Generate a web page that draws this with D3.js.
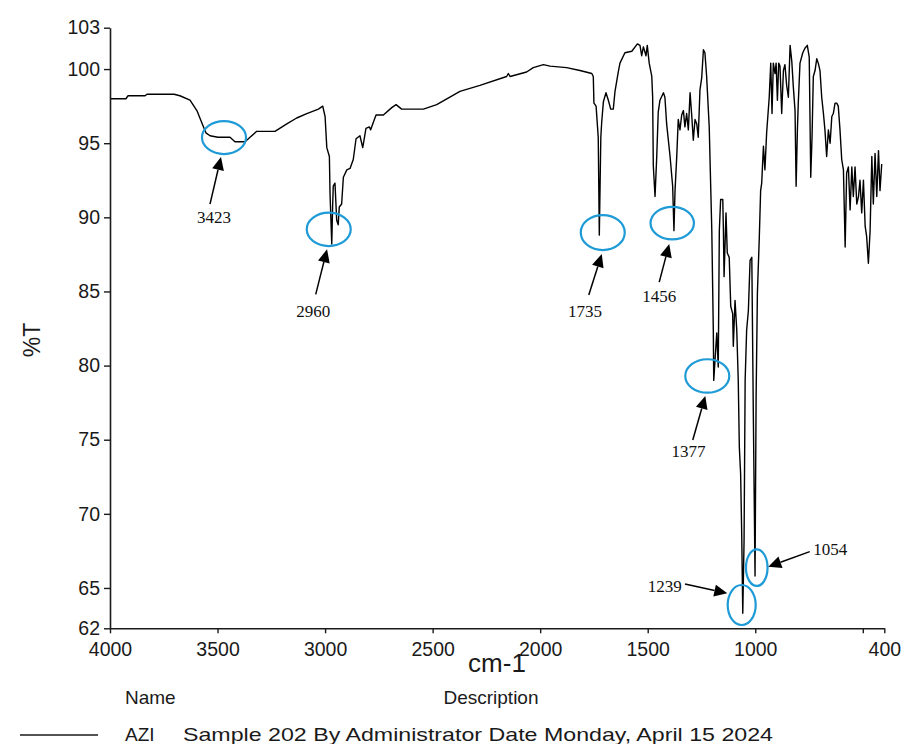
<!DOCTYPE html>
<html>
<head>
<meta charset="utf-8">
<script src="https://cdn.jsdelivr.net/npm/d3@7"></script>
<style>
  html, body { margin: 0; padding: 0; background: #fff; }
  svg { display: block; }
</style>
</head>
<body>
<script>
// ---------------- DATA ----------------
const wavenumbers = [
  4000,3926,3916,3837,3828,3702,3675,3628,3596,3568,3554,3535,3498,3442,3419,3372,3349,3318,3233,3178,
  3132,3085,3031,3011,3000,2992,2980,2977,2969,2965,2962,2954,2946,2939,2934,2923,2915,2899,2884,2869,
  2856,2838,2825,2819,2810,2794,2788,2776,2763,2729,2690,2670,2644,2605,2543,2481,2373,2280,2156,2148,
  2140,2063,2032,1985,1954,1877,1815,1760,1753,1750,1740,1730,1725,1718,1714,1706,1694,1683,1672,1660,
  1652,1637,1629,1606,1574,1548,1536,1528,1520,1508,1502,1493,1481,1477,1474,1466,1458,1451,1443,1427,
  1420,1412,1396,1384,1378,1373,1365,1358,1350,1342,1334,1327,1319,1311,1303,1295,1288,1280,1272,1265,
  1257,1249,1241,1234,1226,1214,1202,1195,1193,1179,1172,1167,1161,1151,1148,1145,1136,1130,1121,1114,
  1105,1102,1094,1086,1079,1074,1068,1063,1058,1052,1047,1040,1032,1024,1016,1009,1001,996,990,981,
  975,970,962,955,947,935,928,922,916,908,903,897,891,885,877,869,862,854,846,838,
  830,823,815,810,804,800,792,779,769,758,749,742,736,730,722,714,707,699,691,683,
  676,668,660,652,644,637,629,621,614,606,598,590,582,575,567,559,551,544,536,528,
  520,513,505,497,489,482,474,466,458,451,443,435,427,420,412
];
const transmittance = [
  98.0,98.0,98.2,98.2,98.3,98.3,98.2,97.9,97.2,96.2,95.7,95.5,95.4,95.4,95.1,95.1,95.4,95.8,95.8,96.3,
  96.7,97.0,97.3,97.5,96.8,94.7,94.1,91.6,88.2,90.7,92.1,92.3,89.8,89.5,90.7,90.9,92.7,93.2,93.3,93.9,
  95.3,95.5,94.7,95.2,96.0,96.1,95.9,96.4,96.9,96.9,97.4,97.6,97.3,97.3,97.3,97.6,98.5,98.9,99.5,99.7,
  99.5,99.8,100.1,100.3,100.2,100.1,99.9,99.7,99.5,97.7,97.5,95.4,88.8,95.4,96.4,97.8,98.4,97.9,97.3,97.3,
  98.5,99.8,100.4,101.1,101.2,101.7,101.6,100.9,101.5,100.9,101.6,100.4,99.5,98.1,93.5,91.4,94.1,97.1,97.9,98.4,
  98.1,96.3,94.1,92.1,89.1,91.8,94.1,96.6,95.9,96.9,97.2,96.1,97.0,95.9,98.4,96.8,95.2,96.6,96.3,95.4,
  98.6,99.4,101.3,101.1,99.5,96.1,89.1,82.4,79.0,82.2,79.9,89.1,91.2,91.2,89.1,86.0,90.3,87.6,87.3,84.0,
  83.5,81.3,84.4,82.4,79.0,74.5,72.7,68.7,63.3,68.2,79.0,82.4,83.7,87.1,87.3,76.8,65.8,77.9,84.9,88.7,
  91.8,92.3,94.8,93.2,95.7,98.1,100.4,97.0,100.4,99.7,100.4,97.9,100.4,100.2,97.0,99.9,100.3,98.9,98.1,101.6,
  100.5,98.8,97.2,92.1,95.9,97.7,100.4,101.1,101.4,101.6,100.8,92.7,95.4,99.5,99.9,100.7,100.4,99.9,98.1,97.0,
  95.9,94.1,95.9,95.0,96.8,97.0,97.7,97.7,97.5,95.9,93.9,93.2,88.0,93.0,93.4,90.5,93.4,91.4,93.4,90.9,
  91.4,92.5,90.3,92.5,89.4,88.7,86.9,89.1,94.1,90.9,94.3,91.4,94.5,91.8,93.6
];

const xDomain = [4000, 400];
const yDomain = [62.28, 102.79];
const xTickValues = [4000, 3500, 3000, 2500, 2000, 1500, 1000, 500, 400];
const xTickLabels = ["4000", "3500", "3000", "2500", "2000", "1500", "1000", "", "400"];
const yTickValues = [62.28, 65, 70, 75, 80, 85, 90, 95, 100, 102.79];
const yTickLabels = ["62", "65", "70", "75", "80", "85", "90", "95", "100", "103"];

// annotated peaks (label text, circled position in data units)
const peakLabels = ["3423", "2960", "1735", "1456", "1377", "1054", "1239"];
const peakWavenumbers = [3470, 2983, 1709, 1386, 1223, 993, 1063];
const peakTransmittance = [95.38, 89.19, 88.97, 89.61, 79.30, 66.37, 63.85];

const xTitle = "cm-1";
const yTitle = "%T";
const legendHeaders = ["Name", "Description"];
const seriesName = "AZI";
const seriesDescription = "Sample 202 By Administrator Date Monday, April 15 2024";

// ---------------- LAYOUT (pixel offsets only) ----------------
const annLayout = [
  {rx: 22,   ry: 16.5, tip: [-3, 19.5],   start: [-14, 66.5],  lab: [-10, 85.8],  anchor: "middle"},
  {rx: 22,   ry: 16.7, tip: [-1.7, 20],   start: [-13, 65],    lab: [-15.4, 87.4], anchor: "middle"},
  {rx: 22,   ry: 17.5, tip: [-1, 21.5],   start: [-14, 62.5],  lab: [-17.8, 84.2], anchor: "middle"},
  {rx: 21.7, ry: 16.3, tip: [-3, 21],     start: [-13, 59],    lab: [-13, 78.7],  anchor: "middle"},
  {rx: 22,   ry: 16.7, tip: [-2, 20],     start: [-14.5, 64],  lab: [-18.9, 81.3], anchor: "middle"},
  {rx: 10.8, ry: 18.3, tip: [11.5, -1],   start: [53, -16],    lab: [56.5, -12.7], anchor: "start"},
  {rx: 14,   ry: 20,   tip: [-14.4, -11.7], start: [-56.7, -21], lab: [-60, -13.3], anchor: "end"}
];

const W = 905, H = 744;
const svg = d3.select("body").append("svg").attr("width", W).attr("height", H);
svg.append("rect").attr("width", W).attr("height", H).attr("fill", "#fff");

const x = d3.scaleLinear().domain(xDomain).range([110, 884.3]);
const y = d3.scaleLinear().domain(yDomain).range([628.3, 27.7]);

const axisFont = "'Liberation Sans', Arial, sans-serif";
const serifFont = "'Liberation Serif', 'Times New Roman', serif";
const ink = "#1a1a1a";

// spectrum
const pts = wavenumbers.map((w, i) => [w, transmittance[i]]);
svg.append("path")
  .datum(pts)
  .attr("fill", "none")
  .attr("stroke", "#000")
  .attr("stroke-width", 1.4)
  .attr("stroke-linejoin", "round")
  .attr("d", d3.line().x(d => x(d[0])).y(d => y(d[1])).curve(d3.curveLinear));

// axes
const yAxis = d3.axisLeft(y)
  .tickValues(yTickValues)
  .tickFormat((d, i) => yTickLabels[i])
  .tickSize(6).tickSizeOuter(0).tickPadding(4);
const gy = svg.append("g").attr("transform", "translate(110,0)").call(yAxis);

const xAxis = d3.axisBottom(x)
  .tickValues(xTickValues)
  .tickFormat((d, i) => xTickLabels[i])
  .tickSize(5).tickSizeOuter(0).tickPadding(8.5);
const gx = svg.append("g").attr("transform", "translate(0,628.3)").call(xAxis);

[gx, gy].forEach(g => {
  g.select(".domain").attr("stroke", ink).attr("stroke-width", 1.6);
  g.selectAll(".tick line").attr("stroke", ink).attr("stroke-width", 1.4);
  g.selectAll(".tick text").attr("fill", ink)
    .style("font-family", axisFont).style("font-size", "19.5px");
});

// axis titles
svg.append("text")
  .attr("x", 497).attr("y", 672)
  .attr("text-anchor", "middle")
  .style("font-family", axisFont).style("font-size", "26px")
  .attr("fill", ink).text(xTitle);

svg.append("text")
  .attr("transform", "translate(40,340) rotate(-90)")
  .attr("text-anchor", "middle")
  .style("font-family", axisFont).style("font-size", "23px")
  .attr("fill", ink).text(yTitle);

// legend
svg.append("text").attr("x", 125).attr("y", 704)
  .style("font-family", axisFont).style("font-size", "19px")
  .attr("fill", ink).text(legendHeaders[0]);
svg.append("text").attr("x", 491).attr("y", 704).attr("text-anchor", "middle")
  .style("font-family", axisFont).style("font-size", "19px")
  .attr("fill", ink).text(legendHeaders[1]);
svg.append("line").attr("x1", 20).attr("x2", 98).attr("y1", 735).attr("y2", 735)
  .attr("stroke", ink).attr("stroke-width", 1.5);
svg.append("text").attr("x", 125).attr("y", 741)
  .style("font-family", axisFont).style("font-size", "19px")
  .attr("fill", ink).text(seriesName);
svg.append("text").attr("x", 183).attr("y", 741)
  .attr("textLength", 590).attr("lengthAdjust", "spacingAndGlyphs")
  .style("font-family", axisFont).style("font-size", "19px")
  .attr("fill", ink).text(seriesDescription);

// annotations
const ann = svg.append("g");
peakLabels.forEach((lab, i) => {
  const L = annLayout[i];
  const cx = x(peakWavenumbers[i]), cy = y(peakTransmittance[i]);
  ann.append("ellipse")
    .attr("cx", cx).attr("cy", cy).attr("rx", L.rx).attr("ry", L.ry)
    .attr("fill", "none").attr("stroke", "#1e9bd7").attr("stroke-width", 2.2);
  const tx = cx + L.tip[0], ty = cy + L.tip[1];
  const sx = cx + L.start[0], sy = cy + L.start[1];
  const ang = Math.atan2(ty - sy, tx - sx);
  const len = 13, hw = 6;
  const bx = tx - len * Math.cos(ang), by = ty - len * Math.sin(ang);
  ann.append("line")
    .attr("x1", sx).attr("y1", sy).attr("x2", bx).attr("y2", by)
    .attr("stroke", "#000").attr("stroke-width", 1.5);
  const px = -Math.sin(ang), py = Math.cos(ang);
  ann.append("polygon")
    .attr("points", [[tx, ty], [bx + hw * px, by + hw * py], [bx - hw * px, by - hw * py]].map(p => p.join(",")).join(" "))
    .attr("fill", "#000");
  ann.append("text")
    .attr("x", cx + L.lab[0]).attr("y", cy + L.lab[1])
    .attr("text-anchor", L.anchor)
    .style("font-family", serifFont).style("font-size", "17px")
    .attr("fill", "#111").text(lab);
});
</script>
</body>
</html>
